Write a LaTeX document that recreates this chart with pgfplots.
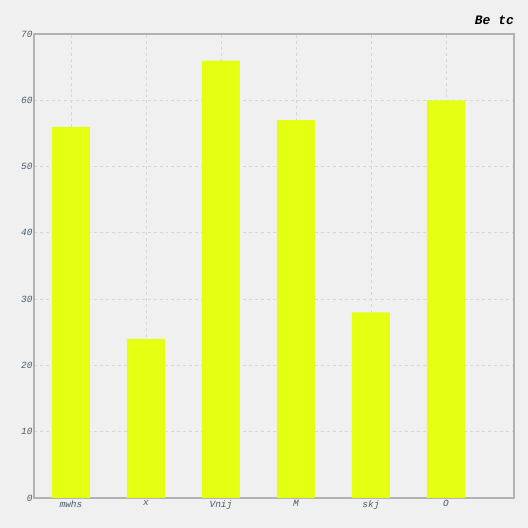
\documentclass[border=0pt]{standalone}
\usepackage{pgfplots}
\pgfplotsset{compat=1.18}
\usepackage{fontspec}
\setmonofont{Liberation Mono}
\usetikzlibrary{backgrounds}
\definecolor{bg}{HTML}{F0F0F0}
\definecolor{baryellow}{HTML}{E5FF12}
\definecolor{ticklab}{HTML}{4A5A6A}
\begin{document}
\begin{tikzpicture}
\begin{axis}[
  scale only axis, width=480bp, height=464bp,
  xmin=-0.493, xmax=5.907, ymin=0, ymax=70,
  ytick={0,10,...,70},
  xtick={0,...,5},
  xticklabels={mwhs,x,Vnij,M,skj,O},
  axis background/.style={fill=bg},
  axis line style={draw=black!30, line width=1.5pt},
  tick style={draw=none},
  grid=major,
  major grid style={dashed, draw=black!16, line width=0.8pt},
  ticklabel style={font=\ttfamily\itshape\fontsize{9.5}{11}\selectfont, text=ticklab},
  /pgf/number format/assume math mode=true,
  xticklabel style={yshift=1pt},
  yticklabel style={xshift=2pt},
]
\addplot[ybar, bar width=0.507, fill=baryellow, draw=none] coordinates {(0,56) (1,24) (2,66) (3,57) (4,28) (5,60)};
\end{axis}
\node[anchor=east, inner sep=0pt, font=\ttfamily\bfseries\itshape\fontsize{13}{15}\selectfont] at ([shift={(0bp,14bp)}]current axis.north east) {Be tc};
\begin{scope}[on background layer]
\fill[bg] ([shift={(-34bp,-30bp)}]current axis.south west) rectangle ([shift={(14bp,34bp)}]current axis.north east);
\end{scope}
\end{tikzpicture}
\end{document}
